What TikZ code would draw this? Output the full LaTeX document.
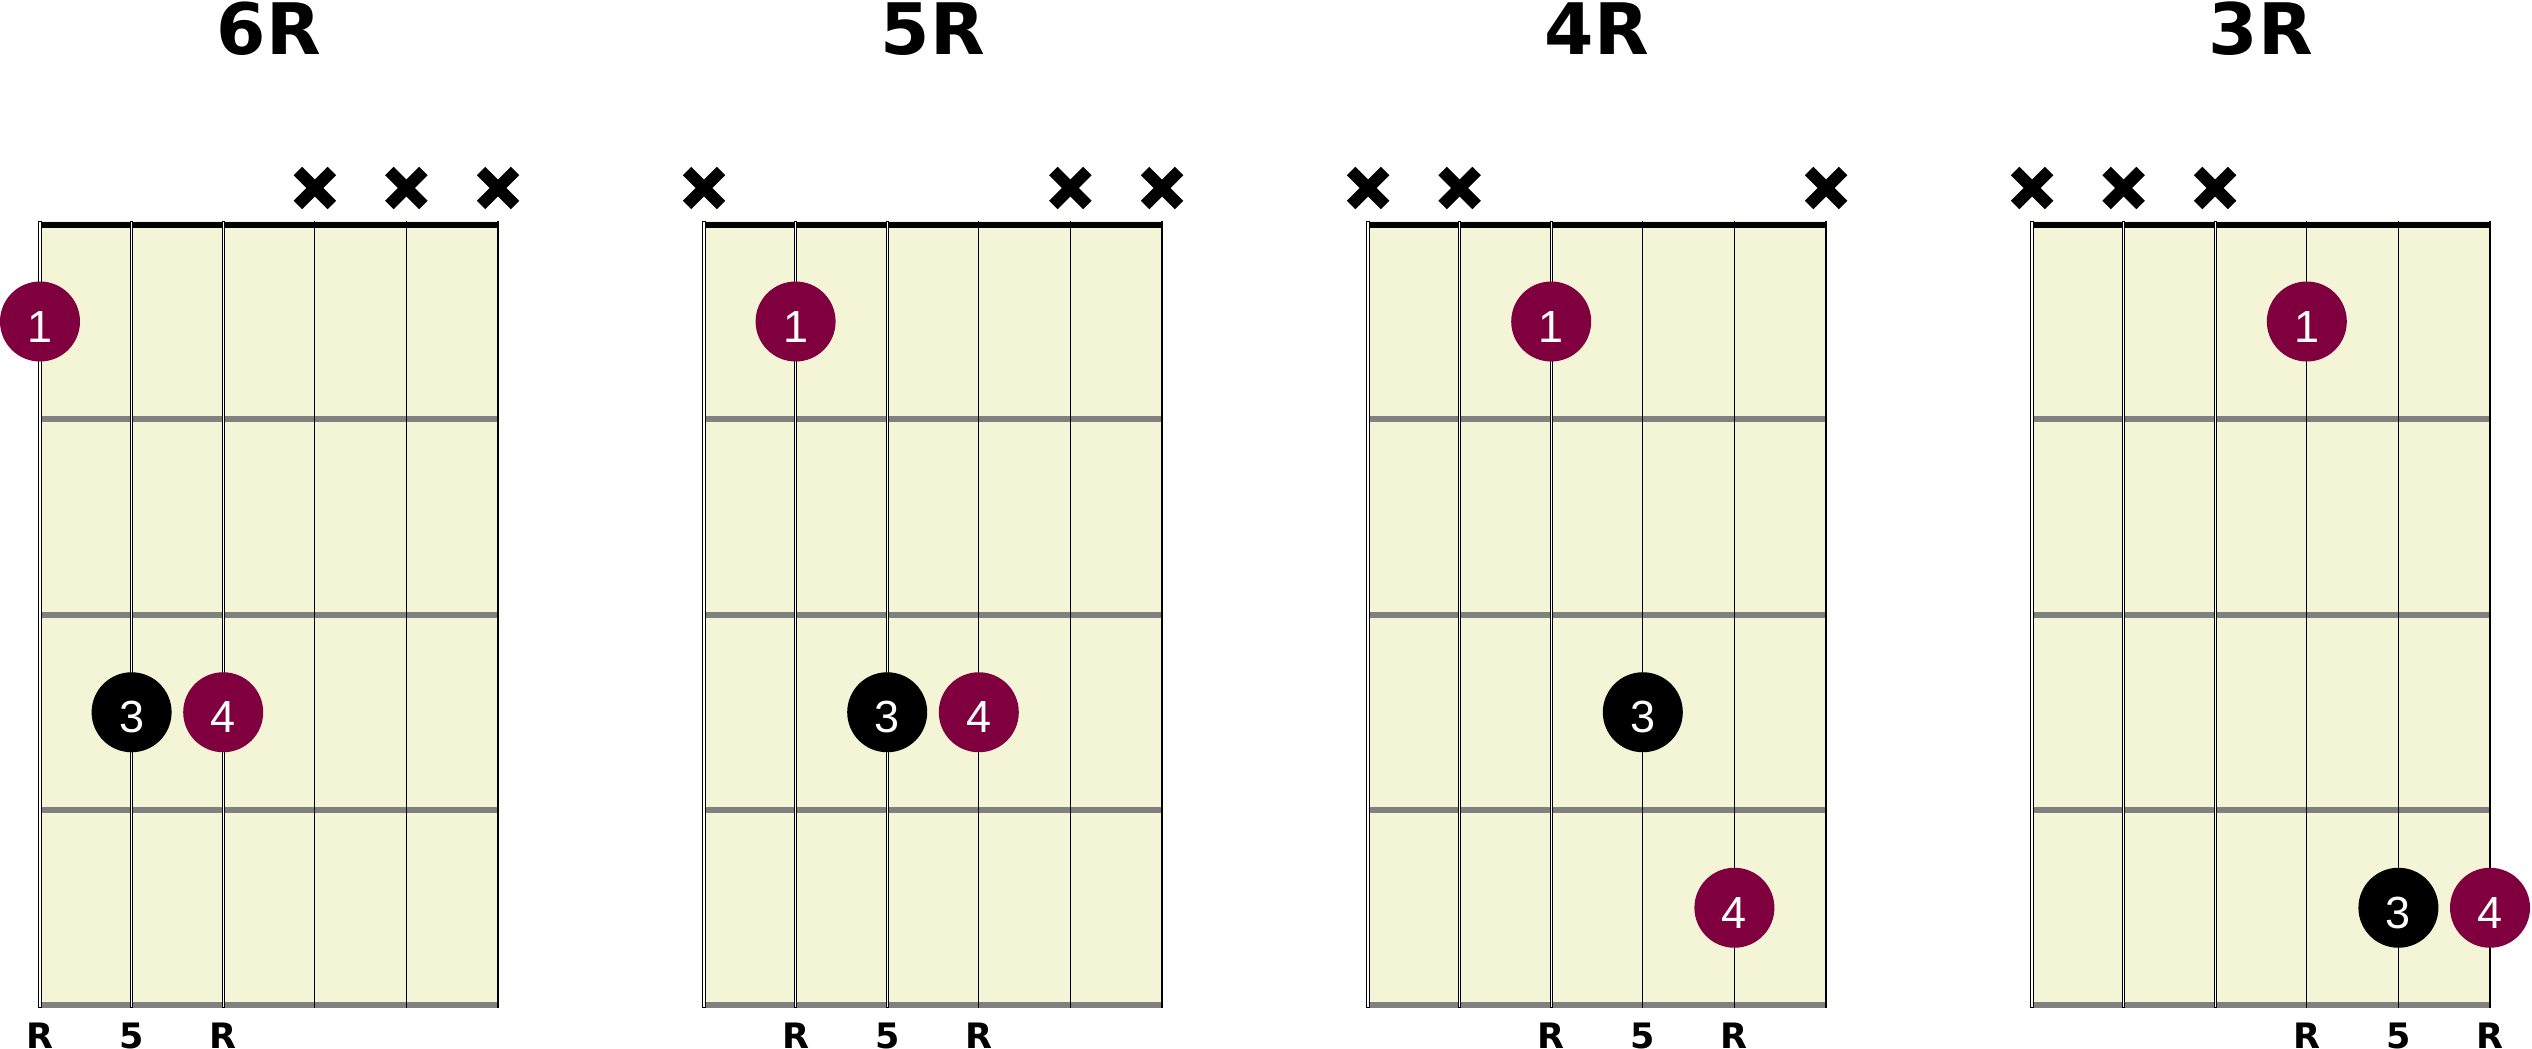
\documentclass[tikz,border=0pt]{standalone}
\usepackage{fontspec}
\newfontfamily\djv{DejaVu Sans}
\newfontfamily\lib{Liberation Sans}
\definecolor{board}{RGB}{243,245,214}
\definecolor{maroonc}{RGB}{128,0,63}
\definecolor{fretgray}{RGB}{128,128,128}
\newcommand\sx[2]{\fpeval{40+664*(#1)+91.6*((#2)-1)}}
\tikzset{
  fretline/.style={line width=6pt, draw=fretgray},
  nutline/.style={line width=6pt, draw=black},
  titletext/.style={font=\djv\bfseries\fontsize{71}{71}\selectfont, anchor=base, inner sep=0pt},
  intervaltext/.style={font=\djv\bfseries\fontsize{35}{35}\selectfont, anchor=base, inner sep=0pt},
  fingerdot/.style={circle, minimum size=80pt, inner sep=0pt, text=white,
    font=\lib\fontsize{45}{45}\selectfont, text height=41pt, text depth=0pt},
  reddot/.style={fingerdot, fill=maroonc},
  blackdot/.style={fingerdot, fill=black},
  mutemark/.style={rectangle, minimum size=44pt, inner sep=0pt,
    path picture={
      \draw[line width=12pt, line cap=butt]
        ([shift={(-17,-17)}]path picture bounding box.center) -- ([shift={(17,17)}]path picture bounding box.center);
      \draw[line width=12pt, line cap=butt]
        ([shift={(-17,17)}]path picture bounding box.center) -- ([shift={(17,-17)}]path picture bounding box.center);
    }},
}
\begin{document}
\begin{tikzpicture}[x=1pt, y=-1pt]
\useasboundingbox (0,0) rectangle (2532,1049);
\foreach \k/\ttl in {0/6R,1/5R,2/4R,3/3R}{
  \pgfmathsetmacro\xo{40+664*\k}
  \pgfmathsetmacro\xe{\xo+458}
  \fill[board] (\xo,221) rectangle (\xe,1008);
  \foreach \f in {419,614.5,810,1005}{
    \draw[fretline] (\xo,\f) -- (\xe,\f);
  }
  \draw[nutline] (\xo,224.5) -- (\xe,224.5);
  % wound strings
  \draw[line width=4.4pt] (\sx{\k}{1},221) -- (\sx{\k}{1},1008);
  \draw[line width=2.4pt, white] (\sx{\k}{1},222) -- (\sx{\k}{1},1007);
  \draw[line width=3.4pt] (\sx{\k}{2},221) -- (\sx{\k}{2},1008);
  \draw[line width=1.5pt, white] (\sx{\k}{2},222) -- (\sx{\k}{2},1007);
  \draw[line width=2.6pt] (\sx{\k}{3},221) -- (\sx{\k}{3},1008);
  \draw[line width=0.9pt, white] (\sx{\k}{3},222) -- (\sx{\k}{3},1007);
  % plain strings
  \foreach \s in {4,5,6}{
    \draw[line width=1.3pt] (\sx{\k}{\s},221) -- (\sx{\k}{\s},1008);
  }
  \node[titletext] (title\k) at ({\xo+229},55) {\ttl};
  % finger dots and interval labels
  \pgfmathtruncatemacro\b{\k+1}
  \pgfmathtruncatemacro\bb{\k+2}
  \pgfmathtruncatemacro\bbb{\k+3}
  \node[reddot] (d\k one) at (\sx{\k}{\b},321.5) {1};
  \node[intervaltext] (lab\k a) at (\sx{\k}{\b},1048) {R};
  \node[intervaltext] (lab\k b) at (\sx{\k}{\bb},1048) {5};
  \node[intervaltext] (lab\k c) at (\sx{\k}{\bbb},1048) {R};
}
% third and fourth finger
\node[blackdot] (d0three) at (\sx{0}{2},712.25) {3};
\node[reddot]   (d0four)  at (\sx{0}{3},712.25) {4};
\node[blackdot] (d1three) at (\sx{1}{3},712.25) {3};
\node[reddot]   (d1four)  at (\sx{1}{4},712.25) {4};
\node[blackdot] (d2three) at (\sx{2}{4},712.25) {3};
\node[reddot]   (d2four)  at (\sx{2}{5},907.75) {4};
\node[blackdot] (d3three) at (\sx{3}{5},907.75) {3};
\node[reddot]   (d3four)  at (\sx{3}{6},907.75) {4};
% muted strings
\node[mutemark] (m0a) at (\sx{0}{4},188) {};
\node[mutemark] (m0b) at (\sx{0}{5},188) {};
\node[mutemark] (m0c) at (\sx{0}{6},188) {};
\node[mutemark] (m1a) at (\sx{1}{1},188) {};
\node[mutemark] (m1b) at (\sx{1}{5},188) {};
\node[mutemark] (m1c) at (\sx{1}{6},188) {};
\node[mutemark] (m2a) at (\sx{2}{1},188) {};
\node[mutemark] (m2b) at (\sx{2}{2},188) {};
\node[mutemark] (m2c) at (\sx{2}{6},188) {};
\node[mutemark] (m3a) at (\sx{3}{1},188) {};
\node[mutemark] (m3b) at (\sx{3}{2},188) {};
\node[mutemark] (m3c) at (\sx{3}{3},188) {};
\end{tikzpicture}
\end{document}
